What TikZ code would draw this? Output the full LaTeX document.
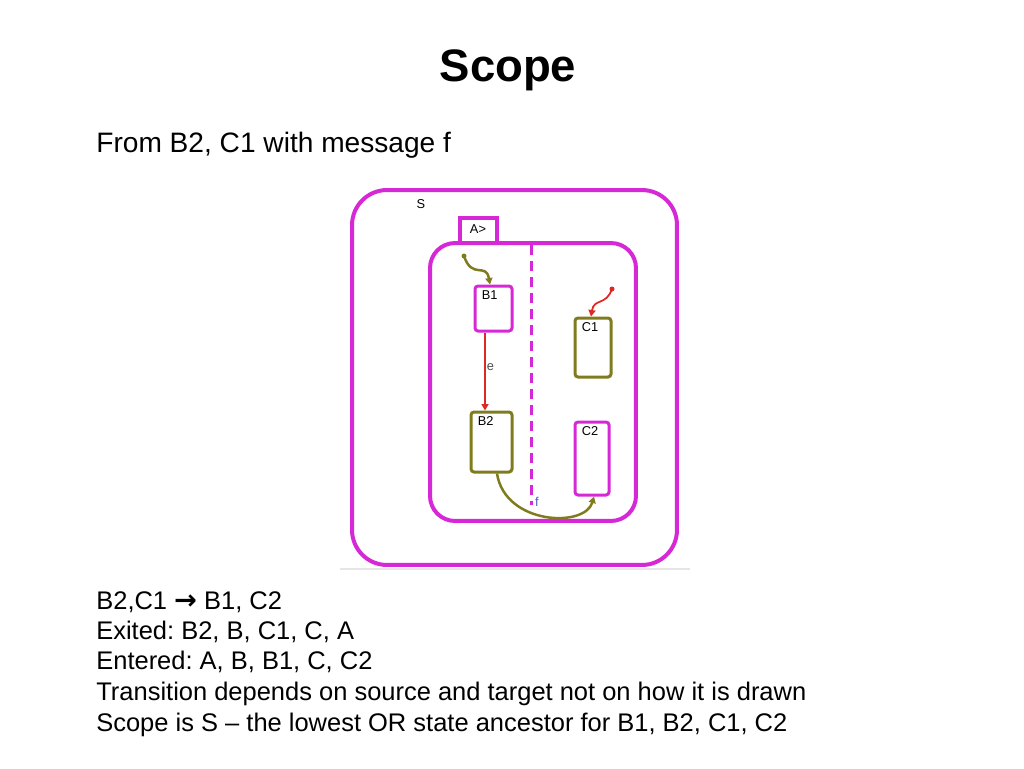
\documentclass[tikz,border=0pt]{standalone}
\usepackage{fontspec}
\setmainfont{Liberation Sans}
\newfontfamily\symfont{DejaVu Sans}
\usetikzlibrary{arrows.meta}
\definecolor{mag}{RGB}{214,40,214}
\definecolor{oliv}{RGB}{128,124,30}
\definecolor{tred}{RGB}{222,40,36}
\definecolor{fblue}{RGB}{80,90,200}
\frenchspacing
\begin{document}
\begin{tikzpicture}[x=0.02cm,y=-0.02cm,
  statebox/.style={draw, rounded corners=0.06cm, line width=0.06cm, inner sep=0pt, fill=white},
  boxlbl/.style={font=\fontsize{7.3}{8}\selectfont, inner xsep=0.16cm, inner ysep=0.12cm, anchor=north west},
  tiny/.style={font=\fontsize{7.3}{8}\selectfont, inner sep=0pt},
  body/.style={font=\fontsize{14.5}{17}\selectfont\frenchspacing, anchor=base west, inner sep=0pt},
  tip/.style={-{Triangle[width=0.14cm,length=0.13cm]}}
]
\useasboundingbox (0,0) rectangle (1024,768);
% texts
\node[font=\fontsize{25.9}{30}\selectfont\bfseries, anchor=base, inner sep=0pt] (title) at (508,81) {Scope};
\node[font=\fontsize{16}{19}\selectfont, anchor=base west, inner sep=0pt] (from) at (96,152) {From B2, C1 with message f};
\node[body] (l1) at (96,609) {B2,C1 {\symfont\bfseries\fontsize{15.5}{17}\selectfont →} B1, C2};
\node[body] (l2) at (96,639) {Exited: B2, B, C1, C, A};
\node[body] (l3) at (96,669) {Entered: A, B, B1, C, C2};
\node[body] (l4) at (96,700) {Transition depends on source and target not on how it is drawn};
\node[body] (l5) at (96,731) {Scope is S -- the lowest OR state ancestor for B1, B2, C1, C2};
% faint screenshot edge
\draw[black!10, line width=0.04cm] (340,569) -- (690,569);
% outer state S
\node[draw=mag, line width=0.08cm, rounded corners=0.7cm, minimum width=6.5cm, minimum height=7.5cm, inner sep=0pt] (S) at (514.5,377.5) {};
\node[tiny] (Slbl) at (421,204) {S};
% tab A>
\node[draw=mag, line width=0.07cm, minimum width=0.74cm, minimum height=0.5cm, inner sep=0pt] (tab) at (478.5,230.5) {};
\node[tiny] (tablbl) at (478,229) {A>};
% inner state A
\node[draw=mag, line width=0.08cm, rounded corners=0.5cm, minimum width=4.12cm, minimum height=5.56cm, inner sep=0pt] (A) at (533,382) {};
% dashed separator
\coordinate (dtop) at (531,245);
\coordinate (dbot) at (531,505);
\draw[mag, line width=0.06cm, dash pattern=on 0.2cm off 0.12cm] (dtop) -- (dbot);
% substates
\node[statebox, draw=mag, minimum width=0.74cm, minimum height=0.9cm,
      label={[boxlbl]north west:B1}] (B1) at (493.5,308.5) {};
\node[statebox, draw=oliv, minimum width=0.82cm, minimum height=1.2cm,
      label={[boxlbl]north west:B2}] (B2) at (491.5,442) {};
\node[statebox, draw=oliv, minimum width=0.72cm, minimum height=1.18cm,
      label={[boxlbl]north west:C1}] (C1) at (593,347.5) {};
\node[statebox, draw=mag, minimum width=0.68cm, minimum height=1.46cm,
      label={[boxlbl]north west:C2}] (C2) at (592,458.5) {};
% default transition into B1
\coordinate (dB) at (464,256);
\fill[oliv] (dB) circle (0.05cm);
\draw[oliv, line width=0.05cm, tip] (dB) .. controls (472,280) and (486,262) .. ([xshift=-0.07cm]B1.north);
% default transition into C1
\coordinate (dC) at (612,289);
\fill[tred] (dC) circle (0.05cm);
\draw[tred, line width=0.035cm, tip] (dC) .. controls (606,306) and (594,298) .. ([xshift=-0.04cm]C1.north);
% e transition
\coordinate (ex) at (485,0);
\draw[tred, line width=0.03cm, tip] (B1.south -| ex) -- (B2.north -| ex) node[pos=0.45, right, tiny, xshift=0.02cm, text=black!70] (elbl) {e};
% f transition
\draw[oliv, line width=0.05cm, tip] ([xshift=0.11cm]B2.south) .. controls (505,525) and (585,528) .. ([xshift=0.04cm]C2.south);
\node[tiny, text=fblue] (flbl) at (537,502) {f};
\end{tikzpicture}
\end{document}
